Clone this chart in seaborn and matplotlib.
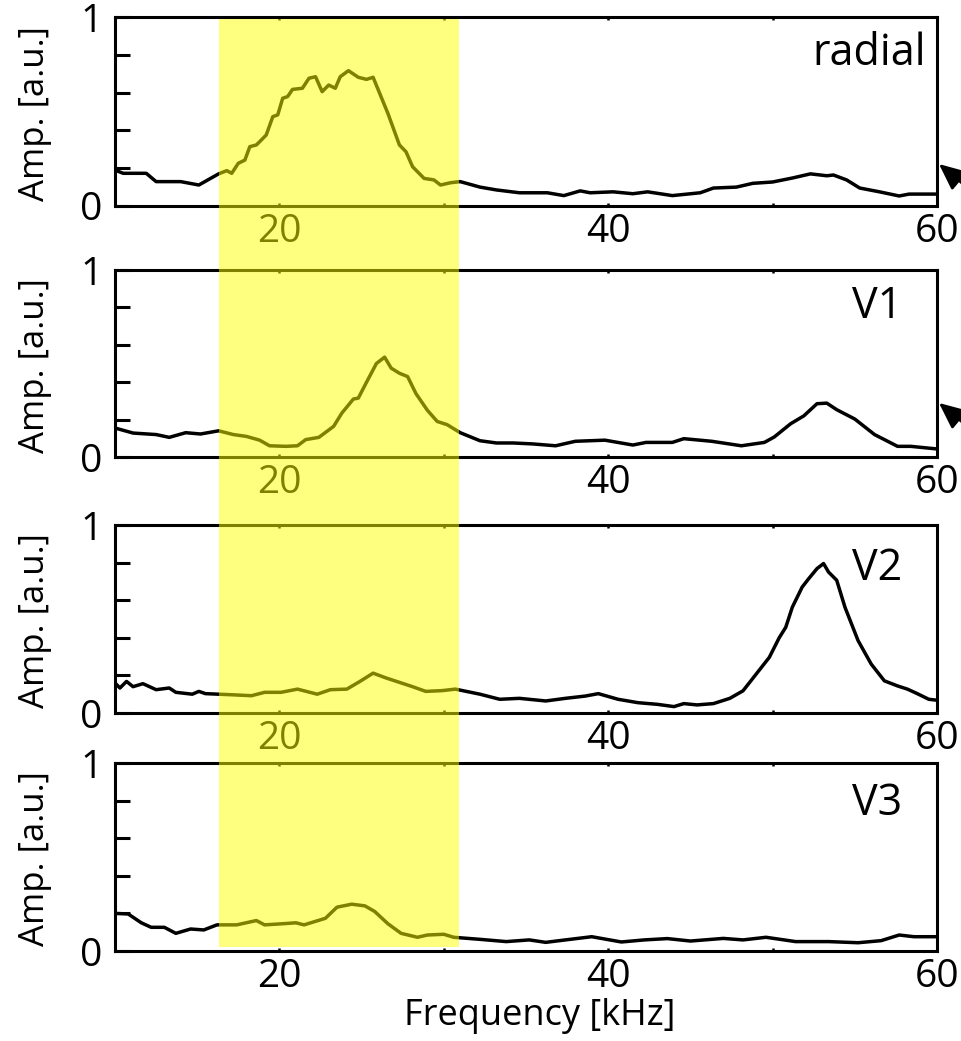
import matplotlib
matplotlib.use("Agg")
import matplotlib.pyplot as plt
import matplotlib.transforms as mtransforms
from matplotlib.patches import Rectangle
import pandas as pd
import seaborn as sns

# ---------------------------------------------------------------------------
# Spectra (frequency in kHz, amplitude in arbitrary units)
# ---------------------------------------------------------------------------
radial_khz = [10.0, 10.5, 11.9, 12.5, 14.0, 15.1, 16.3, 16.8, 17.1, 17.5, 17.9,
              18.2, 18.6, 19.0, 19.2, 19.6, 19.9, 20.2, 20.5, 20.8, 21.4, 21.8,
              22.2, 22.6, 23.0, 23.4, 23.7, 24.2, 24.8, 25.3, 25.7, 26.1, 26.6,
              27.3, 27.7, 28.1, 28.8, 29.4, 29.8, 30.4, 31.0, 32.2, 33.2, 34.6,
              36.3, 37.3, 38.3, 38.9, 40.3, 41.5, 42.4, 43.9, 45.6, 46.4, 47.8,
              48.8, 50.0, 51.2, 52.3, 53.3, 53.7, 54.5, 55.3, 56.5, 57.7, 58.3,
              60.0]
radial_amp = [0.19, 0.173, 0.173, 0.129, 0.129, 0.111, 0.17, 0.187, 0.173, 0.226,
              0.243, 0.314, 0.323, 0.358, 0.376, 0.473, 0.482, 0.570, 0.579,
              0.617, 0.623, 0.676, 0.684, 0.605, 0.640, 0.623, 0.684, 0.716,
              0.681, 0.670, 0.681, 0.596, 0.490, 0.323, 0.287, 0.208, 0.146,
              0.138, 0.111, 0.123, 0.129, 0.10, 0.085, 0.07, 0.07, 0.055, 0.08,
              0.07, 0.075, 0.065, 0.075, 0.055, 0.07, 0.095, 0.10, 0.12, 0.127,
              0.148, 0.17, 0.16, 0.164, 0.138, 0.095, 0.075, 0.053, 0.063, 0.063]

v1_khz = [10.0, 11.1, 12.5, 13.3, 14.3, 15.2, 16.3, 17.2, 18.0, 18.8, 19.4, 20.4,
          21.1, 21.6, 22.4, 23.3, 23.8, 24.5, 24.8, 25.3, 25.9, 26.4, 26.8, 27.3,
          27.8, 28.3, 29.0, 29.6, 30.2, 31.0, 32.2, 33.2, 34.2, 35.4, 36.8, 38.0,
          39.8, 41.5, 42.3, 43.9, 44.6, 46.3, 48.1, 49.5, 50.1, 51.1, 51.9, 52.7,
          53.3, 53.9, 55.0, 56.2, 57.0, 57.6, 58.4, 60.0]
v1_amp = [0.155, 0.128, 0.12, 0.105, 0.13, 0.123, 0.14, 0.12, 0.11, 0.09, 0.06,
          0.057, 0.06, 0.093, 0.105, 0.164, 0.235, 0.31, 0.315, 0.40, 0.50, 0.534,
          0.475, 0.448, 0.43, 0.34, 0.25, 0.19, 0.173, 0.13, 0.087, 0.075, 0.075,
          0.07, 0.06, 0.084, 0.09, 0.064, 0.078, 0.078, 0.098, 0.084, 0.06, 0.078,
          0.107, 0.178, 0.22, 0.285, 0.288, 0.253, 0.203, 0.12, 0.084, 0.057,
          0.057, 0.043]

v2_khz = [10.0, 10.3, 10.7, 11.1, 11.7, 12.5, 13.3, 13.7, 14.7, 15.1, 15.5, 17.1,
          18.3, 19.1, 20.1, 21.1, 22.3, 23.1, 24.1, 24.9, 25.7, 26.5, 27.3, 28.1,
          28.9, 29.9, 30.7, 32.2, 33.4, 34.6, 36.2, 37.4, 38.6, 39.4, 40.6, 41.8,
          43.0, 44.0, 44.6, 45.4, 46.4, 47.4, 48.2, 49.0, 49.8, 50.4, 50.8, 51.2,
          51.8, 52.2, 52.7, 53.1, 53.4, 53.9, 54.4, 55.2, 56.0, 56.8, 57.6, 58.2,
          58.8, 59.5, 60.0]
v2_amp = [0.16, 0.133, 0.168, 0.14, 0.156, 0.124, 0.133, 0.11, 0.10, 0.115, 0.103,
          0.097, 0.092, 0.11, 0.11, 0.127, 0.10, 0.124, 0.127, 0.168, 0.212, 0.186,
          0.163, 0.14, 0.115, 0.119, 0.127, 0.10, 0.073, 0.078, 0.064, 0.078, 0.09,
          0.103, 0.073, 0.055, 0.046, 0.034, 0.05, 0.043, 0.05, 0.078, 0.118,
          0.207, 0.296, 0.40, 0.456, 0.563, 0.67, 0.715, 0.768, 0.795, 0.75,
          0.706, 0.563, 0.385, 0.26, 0.171, 0.144, 0.127, 0.103, 0.073, 0.068]

v3_khz = [10.0, 10.8, 11.6, 12.2, 13.0, 13.7, 14.6, 15.4, 16.2, 17.4, 18.6, 19.1,
          20.2, 21.0, 21.5, 22.8, 23.5, 24.4, 25.2, 25.8, 26.6, 27.4, 28.4, 29.0,
          30.0, 30.6, 32.2, 33.8, 35.2, 36.2, 37.4, 39.0, 40.8, 42.2, 43.6, 45.0,
          47.0, 48.2, 49.6, 51.4, 53.4, 55.2, 56.6, 57.7, 58.6, 60.0]
v3_amp = [0.20, 0.197, 0.15, 0.126, 0.126, 0.094, 0.117, 0.112, 0.139, 0.139,
          0.162, 0.139, 0.145, 0.15, 0.139, 0.174, 0.233, 0.249, 0.24, 0.21, 0.145,
          0.094, 0.073, 0.085, 0.089, 0.073, 0.062, 0.05, 0.059, 0.046, 0.059,
          0.076, 0.048, 0.059, 0.066, 0.053, 0.067, 0.059, 0.073, 0.05, 0.05,
          0.044, 0.055, 0.085, 0.076, 0.076]

mode_names = ["radial", "V1", "V2", "V3"]
band_khz = (16.33, 30.92)
xtick_labels = ["20", "40", "60"]

# Pointer arrows on the right edge: (panel index, amplitude pointed at)
pointers = [(0, 0.222), (1, 0.289)]

series = [(radial_khz, radial_amp), (v1_khz, v1_amp),
          (v2_khz, v2_amp), (v3_khz, v3_amp)]

# ---------------------------------------------------------------------------
sns.set_style("ticks")
plt.rcParams["font.family"] = ["Open Sans", "DejaVu Sans"]
plt.rcParams.update({
    "axes.linewidth": 2.2,
    "text.color": "black",
    "axes.labelcolor": "black",
    "xtick.color": "black",
    "ytick.color": "black",
    "axes.edgecolor": "black",
})

W, H = 962, 1041
fig = plt.figure(figsize=(W / 100, H / 100), dpi=100)
fig.patch.set_facecolor("white")

# panel extents in pixels (top, bottom)
panel_px = [(17, 206), (270, 457), (525, 713), (763, 951)]
left_px, right_px = 115, 937

axes = []
for (top, bot) in panel_px:
    rect = [left_px / W, 1 - bot / H, (right_px - left_px) / W, (bot - top) / H]
    axes.append(fig.add_axes(rect))

label_pos = [(59.3, 0.746, "right"), (54.8, 0.743, "left"),
             (54.8, 0.707, "left"), (54.8, 0.723, "left")]

for i, (ax, (khz, amp), name) in enumerate(zip(axes, series, mode_names)):
    df = pd.DataFrame({"Frequency [kHz]": khz, "Amp. [a.u.]": amp})
    sns.lineplot(data=df, x="Frequency [kHz]", y="Amp. [a.u.]", ax=ax,
                 color="black", linewidth=2.5, estimator=None, sort=False)
    ax.set_xlim(10, 60)
    ax.set_ylim(0, 1)
    for sp in ax.spines.values():
        sp.set_visible(True)
        sp.set_linewidth(2.2)
        sp.set_color("black")

    ax.set_yticks([0, 0.2, 0.4, 0.6, 0.8, 1.0])
    ax.set_yticklabels(["0", "", "", "", "", "1"])
    ax.tick_params(axis="y", direction="in", length=11, width=2.2,
                   labelsize=28, pad=9, left=True, right=False,
                   colors="black")

    ax.set_xticks([20, 30, 40, 50, 60])
    ax.set_xticklabels(["20", "", "40", "", "60"])
    ax.tick_params(axis="x", direction="in", length=2.5, width=1.8,
                   labelsize=28, pad=5, top=True, bottom=True,
                   colors="black")

    ax.set_ylabel("Amp. [a.u.]", fontsize=25, color="black")
    ax.yaxis.set_label_coords(-0.077, 0.49)
    if i < 3:
        ax.set_xlabel("")
    else:
        ax.set_xlabel("Frequency [kHz]", fontsize=26, color="black")
        ax.xaxis.set_label_coords((540 - left_px) / (right_px - left_px), -0.25)

    lx, ly, ha = label_pos[i]
    ax.text(lx, ly, name, fontsize=31, ha=ha, va="baseline", color="black")

# arrows pointing at the right edge of the first two panels
for idx, yv in pointers:
    axes[idx].annotate("", xy=(60.12, yv), xycoords="data",
                       xytext=(62.9, yv - 0.2), textcoords="data",
                       annotation_clip=False,
                       arrowprops=dict(arrowstyle="-|>,head_length=1.0,head_width=0.45",
                                       mutation_scale=16, lw=2.0, color="black",
                                       shrinkA=0, shrinkB=0))

# translucent highlight band spanning all panels
trans = mtransforms.blended_transform_factory(axes[3].transData, fig.transFigure)
band_top = 1 - 19 / H
band_bot = 1 - 947 / H
band = Rectangle((band_khz[0], band_bot), band_khz[1] - band_khz[0],
                 band_top - band_bot, transform=trans,
                 facecolor="#ffff00", alpha=0.5, edgecolor="none", zorder=20)
fig.add_artist(band)

fig.savefig("out.png", dpi=100)
